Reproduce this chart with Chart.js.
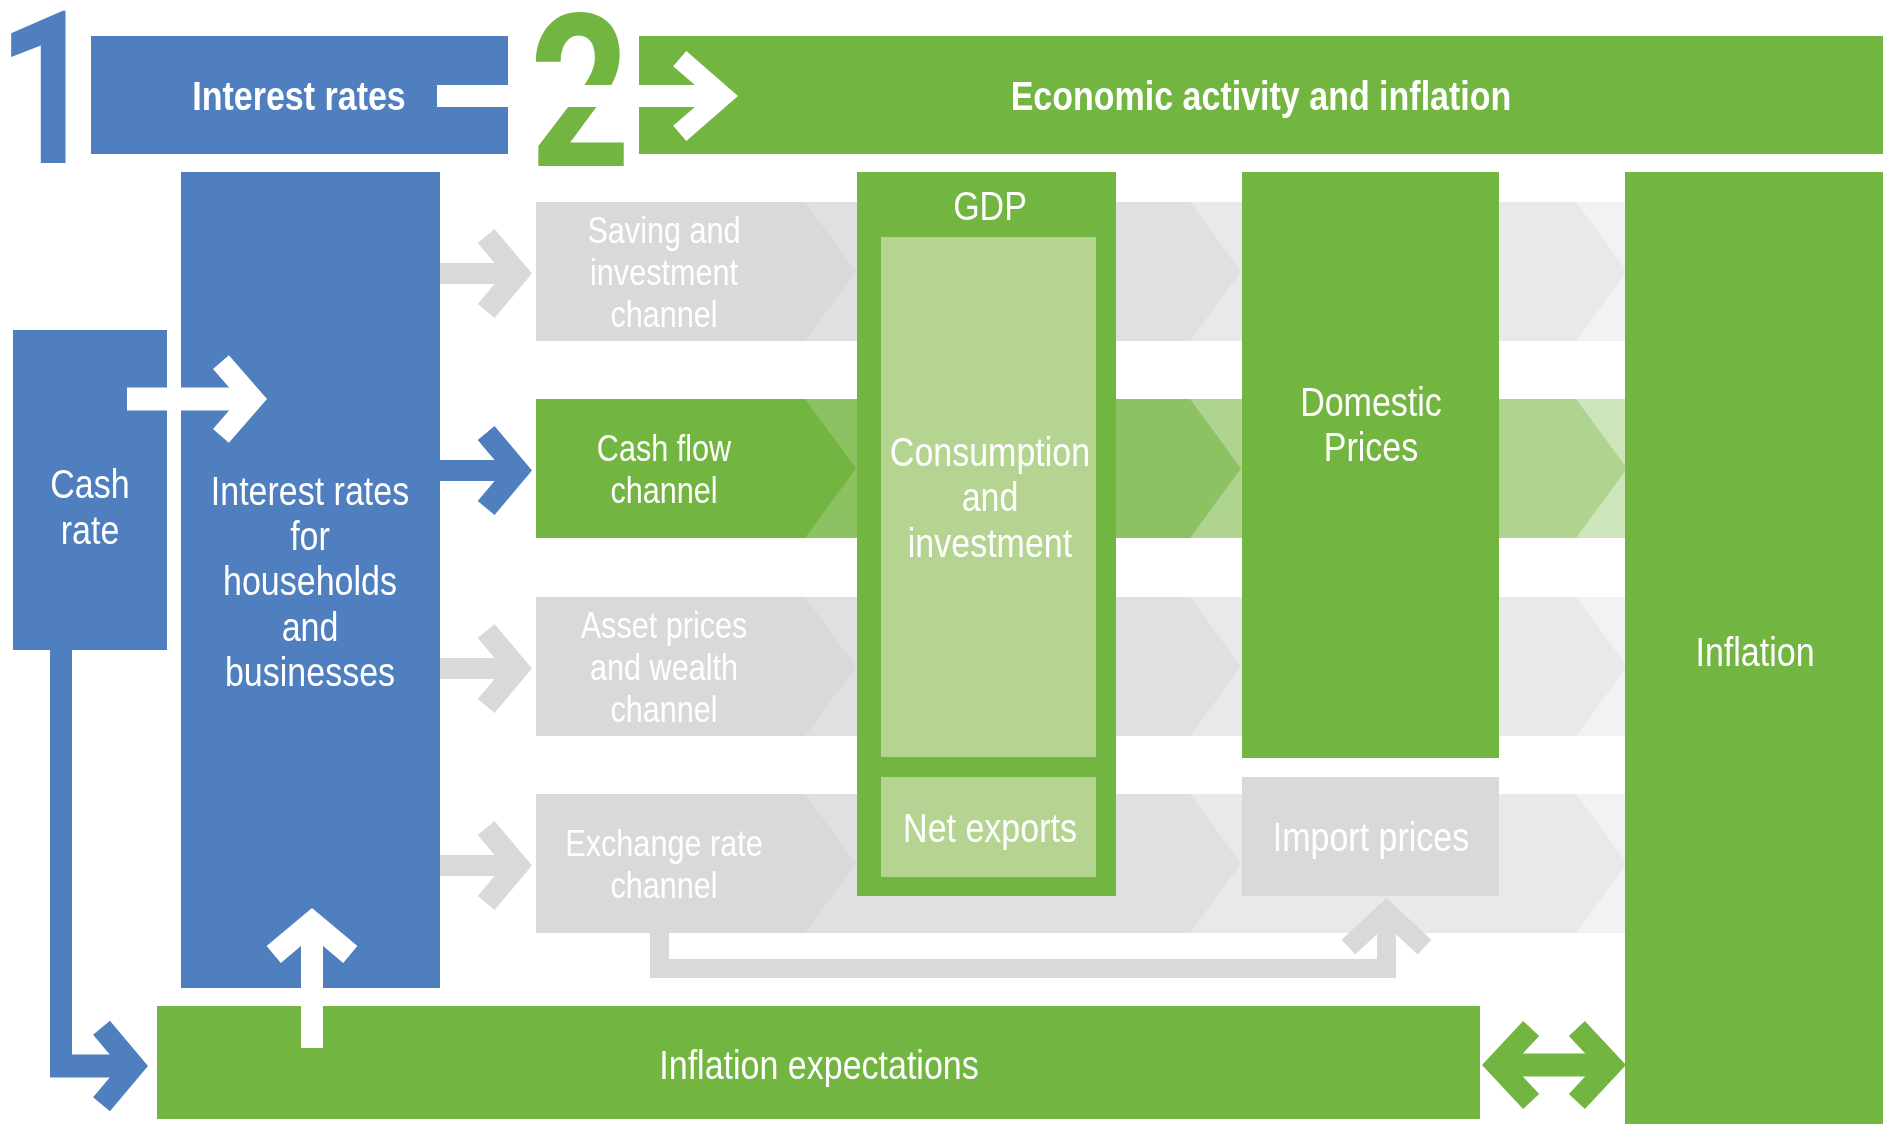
<!DOCTYPE html>
<html>
<head>
<meta charset="utf-8">
<script src="https://cdn.jsdelivr.net/npm/chart.js@4.4.1/dist/chart.umd.min.js"></script>
<style>
html,body{margin:0;padding:0;background:#fff;overflow:hidden}
#wrap{position:relative;width:1883px;height:1124px}
</style>
</head>
<body>
<div id="wrap"><canvas id="diagram"></canvas></div>
<script>
// text content of the diagram
const stepNumbers = ["1", "2"];
const headerLabels = ["Interest rates", "Economic activity and inflation"];
const policyLabels = [["Cash", "rate"], ["Interest rates", "for", "households", "and", "businesses"]];
const channelLabels = [
  ["Saving and", "investment", "channel"],
  ["Cash flow", "channel"],
  ["Asset prices", "and wealth", "channel"],
  ["Exchange rate", "channel"]
];
const highlightedChannel = 1;
const gdpLabels = [["GDP"], ["Consumption", "and", "investment"], ["Net exports"]];
const priceLabels = [["Domestic", "Prices"], ["Import prices"]];
const outcomeLabels = [["Inflation"], ["Inflation expectations"]];

// layout in diagram units (1 unit = 1 px of the 1883x1124 frame)
const W = 1883, H = 1124;
const rowTops = [202, 399, 597, 794];
const ROW_H = 139;
const BAND = { left:536, right:1626, steps:[805, 1190, 1576], depth:51 };

const C = {
  blue:"#4f7fbf", green:"#72b541", paleGreen:"#b5d491", grayBox:"#d9d9d9", white:"#ffffff",
  grayRow:["#d9d9d9", "#e0e0e0", "#e9e9e9", "#f2f2f2"],
  greenRow:["#72b541", "#8dc263", "#afd48f", "#cde5bb"]
};
const FONT = '"Liberation Sans", Arial, sans-serif';
const DIGIT_FONT = 'Roboto, "Liberation Sans", sans-serif';
const SQUEEZE = 0.85;

function drawDiagram(chart){
  const { ctx, scales:{ x, y } } = chart;
  const X = v => x.getPixelForValue(v), Y = v => y.getPixelForValue(v);

  const rect = (x0, y0, x1, y1, c) => { ctx.fillStyle = c; ctx.fillRect(X(x0), Y(y0), X(x1)-X(x0), Y(y1)-Y(y0)); };
  const poly = (pts, c) => {
    ctx.fillStyle = c; ctx.beginPath();
    pts.forEach(([a,b], i) => i ? ctx.lineTo(X(a), Y(b)) : ctx.moveTo(X(a), Y(b)));
    ctx.closePath(); ctx.fill();
  };
  // thick open arrow head, outer tip at (tx,ty), pointing along (dx,dy)
  const chevron = (tx, ty, dx, dy, deg, w, len, c) => {
    const a = deg*Math.PI/180, back = (w/2)/Math.sin(a);
    const cx0 = tx - dx*back, cy0 = ty - dy*back;
    const bx = cx0 - dx*len*Math.cos(a), by = cy0 - dy*len*Math.cos(a);
    const s = len*Math.sin(a), px = -dy, py = dx;
    ctx.save();
    ctx.strokeStyle = c; ctx.lineWidth = w; ctx.lineJoin = "miter"; ctx.miterLimit = 10; ctx.lineCap = "butt";
    ctx.beginPath();
    ctx.moveTo(X(bx+px*s), Y(by+py*s)); ctx.lineTo(X(cx0), Y(cy0)); ctx.lineTo(X(bx-px*s), Y(by-py*s));
    ctx.stroke(); ctx.restore();
    return [cx0, cy0];
  };
  // cy is the centre of the capitals of each line
  const text = (lines, cx, cy, size, lh, opts={}) => {
    ctx.save();
    ctx.font = `${opts.bold ? "bold " : ""}${size}px ${opts.font || FONT}`;
    ctx.fillStyle = opts.color || C.white; ctx.textAlign = "center"; ctx.textBaseline = "alphabetic";
    lines.forEach((t, i) => {
      const yc = cy + (i - (lines.length-1)/2)*lh;
      ctx.save(); ctx.translate(X(cx), Y(yc + 0.358*size)); ctx.scale(opts.squeeze || SQUEEZE, 1);
      ctx.fillText(t, 0, 0); ctx.restore();
    });
    ctx.restore();
  };

  // header banners
  rect(91, 36, 508, 154, C.blue);
  rect(639, 36, W, 154, C.green);
  text([stepNumbers[0]], 47, 86, 214, 0, { bold:true, color:C.blue, font:DIGIT_FONT, squeeze:0.82 });
  text([stepNumbers[1]], 580, 89, 214, 0, { bold:true, color:C.green, font:DIGIT_FONT, squeeze:0.82 });
  const [hx] = chevron(738, 96, 1, 0, 41, 20, 57, C.white);
  rect(437, 85, hx, 107, C.white);

  // transmission channel bands
  rowTops.forEach((top, r) => {
    const bot = top + ROW_H, mid = top + ROW_H/2;
    const shades = r === highlightedChannel ? C.greenRow : C.grayRow;
    rect(BAND.left, top, BAND.right, bot, shades[3]);
    for(let k = BAND.steps.length-1; k >= 0; k--){
      const s = BAND.steps[k];
      poly([[BAND.left, top], [s, top], [s+BAND.depth, mid], [s, bot], [BAND.left, bot]], shades[k]);
    }
  });

  // boxes
  rect(13, 330, 167, 650, C.blue);
  rect(181, 172, 440, 988, C.blue);
  rect(857, 172, 1116, 896, C.green);
  rect(881, 237, 1096, 757, C.paleGreen);
  rect(881, 777, 1096, 877, C.paleGreen);
  rect(1242, 172, 1499, 758, C.green);
  rect(1242, 777, 1499, 896, C.grayBox);
  rect(1625, 172, W, H, C.green);
  rect(157, 1006, 1480, 1119, C.green);

  // arrows out of the lending-rate box
  rowTops.forEach((top, r) => {
    const cy = top + ROW_H/2 + 2;
    const col = r === highlightedChannel ? C.blue : C.grayBox;
    const [sx] = chevron(532, cy, 1, 0, 50, 22, 49, col);
    rect(440, cy-10.5, sx, cy+10.5, col);
  });

  // cash rate -> lending rates
  const [wx] = chevron(267, 399, 1, 0, 49, 21, 49, C.white);
  rect(127, 387.5, wx, 410.5, C.white);

  // expectations -> lending rates
  const [, wy] = chevron(312, 908, 0, -1, 50, 22, 50, C.white);
  rect(301, wy, 323, 1048, C.white);

  // cash rate -> expectations
  rect(50, 650, 72, 1077, C.blue);
  const [bx] = chevron(148, 1066, 1, 0, 50, 22, 50, C.blue);
  rect(50, 1054.5, bx, 1077.5, C.blue);

  // exchange rate -> import prices
  rect(650, 932, 669, 978, C.grayBox);
  rect(650, 959, 1396, 978, C.grayBox);
  const [, gy] = chevron(1386.5, 898, 0, -1, 47, 20, 52, C.grayBox);
  rect(1377, gy, 1396, 978, C.grayBox);

  // expectations <-> inflation
  const [lx] = chevron(1482, 1065, -1, 0, 47, 22, 50, C.green);
  const [rx] = chevron(1626, 1065, 1, 0, 47, 22, 50, C.green);
  rect(lx, 1053.5, rx, 1076.5, C.green);

  // labels
  text([headerLabels[0]], 299, 96, 40, 0, { bold:true });
  text([headerLabels[1]], 1261, 96, 40, 0, { bold:true });
  text(policyLabels[0], 90, 507, 40, 46);
  text(policyLabels[1], 310, 581, 40, 45.3);
  rowTops.forEach((top, r) => text(channelLabels[r], 664, top + 70, 36, 42));
  text(gdpLabels[0], 990, 206, 40, 0);
  text(gdpLabels[1], 990, 497, 40, 45.5);
  text(gdpLabels[2], 990, 828, 40, 0);
  text(priceLabels[0], 1371, 424, 40, 45.5);
  text(priceLabels[1], 1371, 837, 40, 0);
  text(outcomeLabels[0], 1755, 652, 40, 0);
  text(outcomeLabels[1], 819, 1065, 40, 0);
}

const diagramPlugin = { id:"diagram", beforeDatasetsDraw(chart){ drawDiagram(chart); } };

new Chart(document.getElementById("diagram"), {
  type:"scatter",
  data:{ datasets:[{ data:[], pointRadius:0 }] },
  options:{
    responsive:true, maintainAspectRatio:false, animation:false, events:[],
    layout:{ padding:0 },
    plugins:{ legend:{ display:false }, tooltip:{ enabled:false } },
    scales:{
      x:{ type:"linear", min:0, max:W, display:false },
      y:{ type:"linear", min:0, max:H, reverse:true, display:false }
    }
  },
  plugins:[diagramPlugin]
});
</script>
</body>
</html>
